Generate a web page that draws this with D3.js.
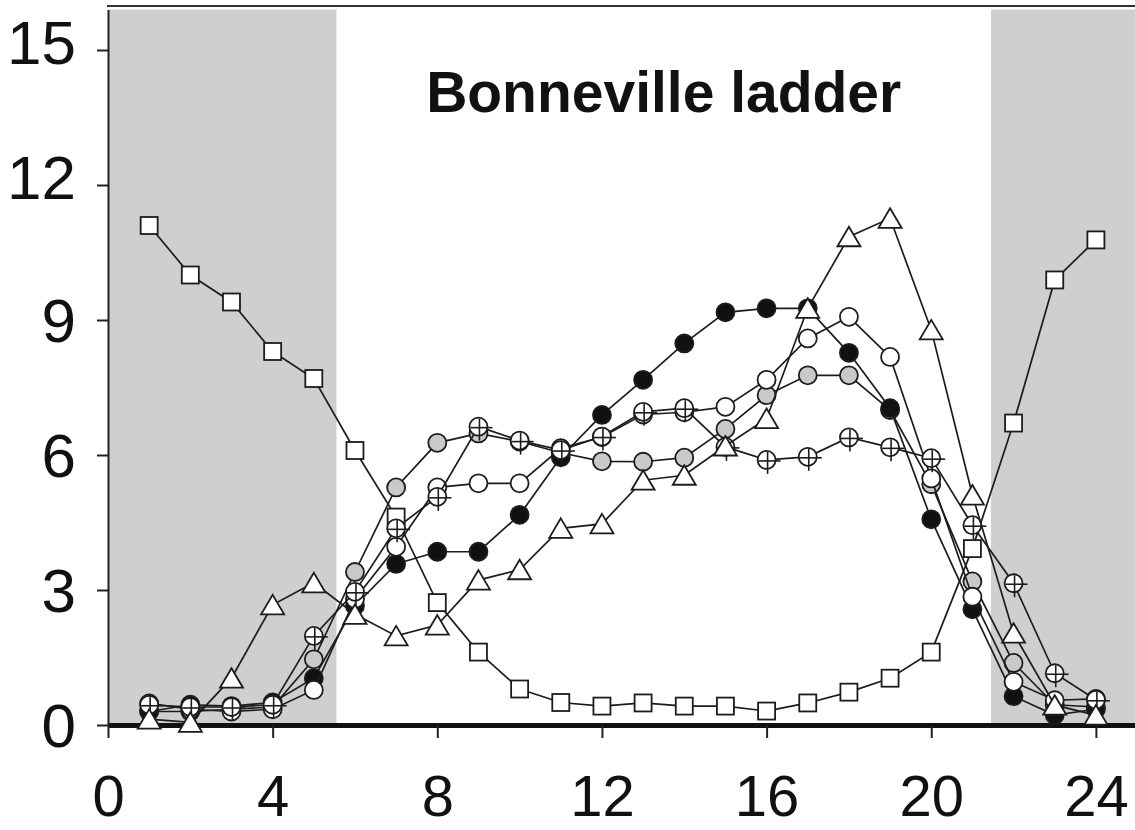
<!DOCTYPE html>
<html>
<head>
<meta charset="utf-8">
<script src="https://cdn.jsdelivr.net/npm/d3@7"></script>
<style>
  body { margin: 0; background: #fff; }
  text { font-family: "Liberation Sans", Arial, sans-serif; fill: #111; }
</style>
</head>
<body>
<div id="chart"></div>
<script>
// hours of the day (x values)
var hours = d3.range(1, 25);
var xTicks = [0, 4, 8, 12, 16, 20, 24];
var yTicks = [0, 3, 6, 9, 12, 15];
// night periods (shaded)
var nightBands = [[0, 5.55], [21.45, 24.95]];

var squares   = [11.1, 10.0, 9.4, 8.3, 7.7, 6.1, 4.62, 2.72, 1.62, 0.8, 0.5, 0.42, 0.49, 0.42, 0.42, 0.31, 0.49, 0.73, 1.04, 1.62, 3.92, 6.71, 9.89, 10.78];
var grayDots  = [0.3, 0.3, 0.35, 0.4, 1.46, 3.4, 5.28, 6.27, 6.48, 6.3, 6.05, 5.86, 5.85, 5.94, 6.58, 7.33, 7.77, 7.77, 7.0, 5.35, 3.19, 1.38, 0.45, 0.4];
var blackDots = [0.3, 0.45, 0.42, 0.5, 1.04, 2.65, 3.58, 3.85, 3.85, 4.67, 5.95, 6.89, 7.67, 8.48, 9.17, 9.26, 9.26, 8.27, 7.04, 4.57, 2.57, 0.64, 0.22, 0.35];
var openDots  = [0.48, 0.35, 0.3, 0.35, 0.78, 2.8, 3.96, 5.28, 5.37, 5.37, 6.15, 6.4, 6.9, 6.95, 7.07, 7.67, 8.59, 9.07, 8.18, 5.48, 2.85, 0.96, 0.55, 0.58];
var crossDots = [0.45, 0.4, 0.4, 0.45, 1.98, 2.96, 4.37, 5.07, 6.63, 6.32, 6.11, 6.41, 6.96, 7.04, 6.18, 5.89, 5.96, 6.39, 6.17, 5.93, 4.44, 3.15, 1.15, 0.56];
var triangles = [0.13, 0.06, 1.04, 2.67, 3.16, 2.46, 1.98, 2.22, 3.22, 3.45, 4.37, 4.47, 5.44, 5.55, 6.2, 6.81, 9.26, 10.85, 11.26, 8.78, 5.11, 2.04, 0.44, 0.22];

var series = [
  {name: "squares", values: squares, shape: "square", fill: "#fff"},
  {name: "gray", values: grayDots, shape: "circle", fill: "#c9c9c9"},
  {name: "black", values: blackDots, shape: "circle", fill: "#111"},
  {name: "open", values: openDots, shape: "circle", fill: "#fff"},
  {name: "cross", values: crossDots, shape: "cross", fill: "#fff"},
  {name: "triangles", values: triangles, shape: "triangle", fill: "#fff"}
];

var width = 1135, height = 830;
var svg = d3.select("#chart").append("svg")
  .attr("width", width)
  .attr("height", height);

var x = d3.scaleLinear().domain([0, 24.95]).range([108, 1135]);
var y = d3.scaleLinear().domain([0, 15.9]).range([725, 9.5]);

// shaded night bands
svg.append("g").selectAll("rect")
  .data(nightBands)
  .enter().append("rect")
    .attr("x", function(d) { return x(d[0]); })
    .attr("width", function(d) { return x(d[1]) - x(d[0]); })
    .attr("y", y(15.9))
    .attr("height", y(0) - y(15.9))
    .attr("fill", "#cfcfcf");

// top frame line
svg.append("line")
  .attr("x1", x(0) - 1).attr("x2", x(24.95))
  .attr("y1", y(15.9) - 3.5).attr("y2", y(15.9) - 3.5)
  .attr("stroke", "#333").attr("stroke-width", 2);

// title
svg.append("text")
  .attr("x", (x(5.55) + x(21.45)) / 2)
  .attr("y", 112)
  .attr("text-anchor", "middle")
  .style("font-size", "57px")
  .style("font-weight", "bold")
  .text("Bonneville ladder");

// y axis
var yAxis = svg.append("g")
  .attr("transform", "translate(" + x(0) + ",0)")
  .call(d3.axisLeft(y).tickValues(yTicks).tickSize(11).tickSizeOuter(0).tickPadding(21));
yAxis.select(".domain").attr("stroke", "#222").attr("stroke-width", 2);
yAxis.selectAll(".tick line").attr("stroke", "#222").attr("stroke-width", 2);
yAxis.selectAll(".tick text")
  .style("font-size", "62px")
  .style("font-family", "'Liberation Sans', Arial, sans-serif")
  .attr("fill", "#111")
  .attr("dy", function(d) { return d >= 12 ? "0.22em" : "0.34em"; });

// x axis
var xAxis = svg.append("g")
  .attr("transform", "translate(0," + y(0) + ")")
  .call(d3.axisBottom(x).tickValues(xTicks).tickSize(13).tickSizeOuter(0).tickPadding(37));
xAxis.select(".domain").attr("stroke", "#111").attr("stroke-width", 5);
xAxis.selectAll(".tick line").attr("stroke", "#222").attr("stroke-width", 2);
xAxis.selectAll(".tick text")
  .style("font-size", "58px")
  .style("font-family", "'Liberation Sans', Arial, sans-serif")
  .attr("fill", "#111");

var line = d3.line()
  .x(function(d, i) { return x(hours[i]); })
  .y(function(d) { return y(d); });

var stroke = "#1c1c1c";

series.forEach(function(s) {
  var g = svg.append("g").attr("class", s.name);
  g.append("path")
    .datum(s.values)
    .attr("fill", "none")
    .attr("stroke", stroke)
    .attr("stroke-width", 1.7)
    .attr("d", line);

  var pts = g.selectAll("g.pt")
    .data(s.values)
    .enter().append("g")
      .attr("class", "pt")
      .attr("transform", function(d, i) { return "translate(" + x(hours[i]) + "," + y(d) + ")"; });

  if (s.shape == "square") {
    pts.append("rect")
      .attr("x", -8.5).attr("y", -8.5).attr("width", 17).attr("height", 17)
      .attr("fill", s.fill).attr("stroke", stroke).attr("stroke-width", 1.8);
  } else if (s.shape == "triangle") {
    pts.append("path")
      .attr("d", "M0,-10L11.5,9.5L-11.5,9.5Z")
      .attr("fill", s.fill).attr("stroke", stroke).attr("stroke-width", 1.8);
  } else {
    pts.append("circle")
      .attr("r", 9)
      .attr("fill", s.fill).attr("stroke", stroke).attr("stroke-width", 1.8);
    if (s.shape == "cross") {
      // plus sign, slightly off-centre like the original symbol
      pts.append("line")
        .attr("x1", -8).attr("x2", 14).attr("y1", 1).attr("y2", 1)
        .attr("stroke", stroke).attr("stroke-width", 1.6);
      pts.append("line")
        .attr("x1", 1).attr("x2", 1).attr("y1", -8).attr("y2", 14)
        .attr("stroke", stroke).attr("stroke-width", 1.6);
    }
  }
});
</script>
</body>
</html>
